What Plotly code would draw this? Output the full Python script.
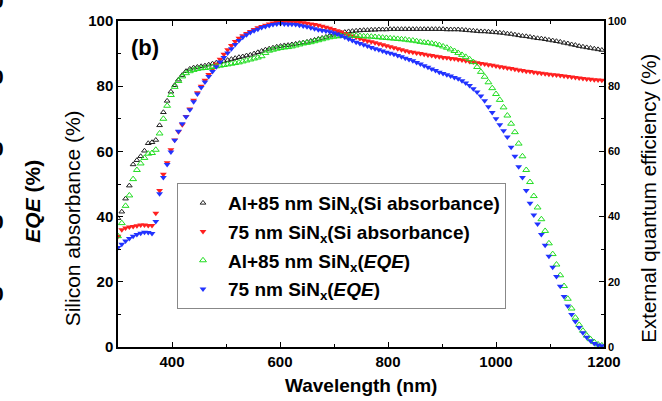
import plotly.graph_objects as go

wavelength = list(range(300, 1197, 7))

abs_al85 = [
    39.5, 41.5, 45.5, 49.5, 56.0, 57.3, 58.5, 60.2, 62.5, 62.8,
    63.5, 68.0, 72.0, 75.5, 78.3, 80.3, 82.0, 83.4, 84.6, 85.3,
    85.7, 85.9, 86.1, 86.3, 86.6, 86.9, 87.2, 87.4, 87.7, 88.0,
    88.3, 88.6, 88.9, 89.1, 89.4, 89.6, 90.0, 90.4, 90.8, 91.2,
    91.5, 91.8, 92.1, 92.3, 92.5, 92.6, 92.8, 93.0, 93.2, 93.4,
    93.6, 93.9, 94.2, 94.5, 94.8, 95.1, 95.5, 95.8, 96.1, 96.4,
    96.6, 96.8, 96.9, 97.0, 97.1, 97.2, 97.2, 97.3, 97.3, 97.4,
    97.4, 97.4, 97.5, 97.5, 97.5, 97.5, 97.5, 97.5, 97.5, 97.5,
    97.5, 97.5, 97.5, 97.5, 97.5, 97.5, 97.5, 97.4, 97.4, 97.4,
    97.4, 97.3, 97.2, 97.1, 97.0, 96.9, 96.8, 96.8, 96.7, 96.6,
    96.5, 96.4, 96.3, 96.1, 96.0, 95.8, 95.6, 95.4, 95.3, 95.1,
    94.9, 94.7, 94.6, 94.4, 94.2, 94.0, 93.8, 93.6, 93.3, 93.1,
    92.8, 92.6, 92.3, 92.1, 91.9, 91.7, 91.5, 91.3, 91.1,
]

abs_75 = [
    34.0, 36.0, 36.5, 36.8, 37.0, 37.2, 37.4, 37.4, 37.3, 37.3,
    41.0, 48.0, 53.0, 56.5, 60.5, 63.5, 66.0, 68.2, 70.7, 73.0,
    75.7, 78.0, 80.0, 81.8, 83.6, 85.2, 86.8, 88.3, 89.8, 91.2,
    92.5, 93.7, 94.7, 95.5, 96.2, 96.8, 97.4, 97.9, 98.3, 98.7,
    99.1, 99.4, 99.6, 99.7, 99.8, 99.8, 99.8, 99.7, 99.6, 99.5,
    99.3, 99.1, 98.9, 98.7, 98.4, 98.1, 97.8, 97.4, 97.0, 96.6,
    96.2, 95.8, 95.4, 95.0, 94.6, 94.2, 93.9, 93.6, 93.3, 93.0,
    92.7, 92.4, 92.1, 91.8, 91.5, 91.2, 90.9, 90.6, 90.4, 90.2,
    90.0, 89.8, 89.6, 89.4, 89.2, 89.0, 88.8, 88.7, 88.5, 88.4,
    88.2, 88.0, 87.8, 87.6, 87.4, 87.2, 87.0, 86.8, 86.6, 86.4,
    86.2, 86.0, 85.8, 85.6, 85.4, 85.2, 85.0, 84.8, 84.6, 84.5,
    84.3, 84.1, 84.0, 83.8, 83.7, 83.5, 83.4, 83.3, 83.1, 83.0,
    82.8, 82.7, 82.5, 82.4, 82.2, 82.1, 82.0, 81.9, 81.8,
]

eqe_al85 = [
    34.0, 38.0, 43.3, 46.5, 51.5, 54.3, 56.3, 58.0, 59.3, 59.5,
    60.5, 65.5, 70.0, 74.0, 77.3, 79.8, 81.6, 83.0, 84.0, 84.6,
    85.0, 85.3, 85.5, 85.6, 85.7, 85.9, 86.1, 86.3, 86.5, 86.7,
    86.9, 87.1, 87.3, 87.6, 87.9, 88.2, 88.5, 88.8, 89.2, 90.2,
    90.9, 91.2, 91.5, 91.7, 91.9, 92.0, 92.2, 92.5, 92.8, 93.1,
    93.3, 93.5, 93.8, 94.1, 94.4, 94.7, 95.0, 95.2, 95.3, 95.4,
    95.5, 95.5, 95.5, 95.5, 95.4, 95.3, 95.3, 95.2, 95.1, 95.0,
    94.9, 94.8, 94.7, 94.6, 94.5, 94.4, 94.3, 94.1, 94.0, 93.8,
    93.6, 93.4, 93.3, 93.1, 92.9, 92.6, 92.2, 91.8, 91.3, 90.8,
    90.2, 89.6, 89.0, 88.3, 87.4, 85.9, 84.4, 82.9, 81.2, 79.4,
    77.6, 75.8, 73.5, 71.0, 68.5, 65.9, 62.4, 58.5, 54.3, 50.6,
    46.3, 42.8, 39.2, 35.6, 31.8, 28.5, 25.3, 22.0, 18.7, 14.8,
    11.8, 9.0, 6.8, 5.0, 3.5, 2.4, 1.5, 0.8, 0.5,
]

eqe_75 = [
    30.5, 31.5, 32.5, 33.3, 34.0, 34.5, 34.9, 35.2, 35.1, 34.8,
    38.5, 47.0, 52.0, 56.0, 59.8, 63.4, 66.2, 68.5, 70.6, 72.8,
    75.2, 77.6, 79.6, 81.3, 83.0, 84.5, 86.0, 87.4, 88.8, 90.2,
    91.5, 92.8, 94.0, 95.0, 95.8, 96.5, 97.0, 97.5, 98.0, 98.3,
    98.6, 98.9, 99.1, 99.2, 99.1, 99.0, 99.0, 98.9, 98.7, 98.5,
    98.2, 97.9, 97.6, 97.3, 97.1, 96.9, 96.7, 96.4, 96.0, 95.5,
    95.0, 94.5, 94.0, 93.5, 93.1, 92.7, 92.3, 91.9, 91.5, 91.2,
    90.8, 90.4, 90.1, 89.8, 89.4, 89.0, 88.6, 88.2, 87.8, 87.3,
    86.8, 86.3, 85.8, 85.3, 84.8, 84.3, 83.9, 83.5, 83.1, 82.7,
    82.3, 81.7, 81.0, 80.2, 79.2, 78.2, 77.0, 75.5, 73.7, 71.9,
    70.0, 68.2, 66.3, 64.4, 61.3, 58.5, 55.3, 52.0, 48.0, 44.1,
    40.5, 37.7, 34.5, 31.2, 27.8, 24.5, 21.6, 18.6, 15.5, 12.6,
    10.0, 7.8, 6.0, 4.4, 3.0, 1.9, 1.1, 0.6, 0.4,
]

names = [
    "Al+85 nm SiN<sub>x</sub>(Si absorbance)",
    "75 nm SiN<sub>x</sub>(Si absorbance)",
    "Al+85 nm SiN<sub>x</sub>(<i>EQE</i>)",
    "75 nm SiN<sub>x</sub>(<i>EQE</i>)",
]
left_ticks = [0, 20, 40, 60, 80, 100]
x_ticks = [400, 600, 800, 1000, 1200]

FONT = "Arial, Liberation Sans, sans-serif"
W, H = 662, 401
L, R, T, B = 118, 58, 15, 54
pw, ph = W - L - R, H - T - B

def px_x(p):
    return (p - L) / pw

def px_y(p):
    return (H - B - p) / ph

fig = go.Figure()
fig.add_trace(go.Scatter(x=wavelength, y=abs_al85, mode="markers", name=names[0],
    marker=dict(symbol="triangle-up-open", size=5, color="#222222", line=dict(width=1)),
    legendgroup="a"))
fig.add_trace(go.Scatter(x=wavelength, y=abs_75, mode="markers", name=names[1],
    marker=dict(symbol="triangle-down", size=6, color="#ff2020"),
    legendgroup="b"))
fig.add_trace(go.Scatter(x=wavelength, y=eqe_al85, mode="markers", name=names[2], yaxis="y2",
    marker=dict(symbol="triangle-up-open", size=6, color="#22dd22", line=dict(width=1)),
    legendgroup="c"))
fig.add_trace(go.Scatter(x=wavelength, y=eqe_75, mode="markers", name=names[3], yaxis="y2",
    marker=dict(symbol="triangle-down", size=6, color="#2233ff"),
    legendgroup="d"))

axis_common = dict(showline=True, linecolor="black", linewidth=1.5, ticks="inside",
                   ticklen=5, tickwidth=1.2, tickcolor="black", showgrid=False, zeroline=False)

fig.update_layout(
    width=W, height=H,
    margin=dict(l=L, r=R, t=T, b=B),
    paper_bgcolor="white", plot_bgcolor="white",
    font=dict(family=FONT, color="black"),
    xaxis=dict(range=[300, 1200], tickvals=x_ticks, mirror="ticks",
               tickfont=dict(size=15, weight="bold"),
               minor=dict(dtick=100, tick0=300, ticks="inside", ticklen=3, tickcolor="black"),
               **axis_common),
    yaxis=dict(range=[0, 100], tickvals=left_ticks, mirror=True,
               tickfont=dict(size=15, weight="bold"),
               minor=dict(dtick=10, ticks="inside", ticklen=3, tickcolor="black"),
               **axis_common),
    yaxis2=dict(range=[0, 100], tickvals=left_ticks, overlaying="y", side="right",
                tickfont=dict(size=11, weight="bold"),
                minor=dict(dtick=10, ticks="inside", ticklen=3, tickcolor="black"),
                **axis_common),
    legend=dict(x=px_x(177), y=px_y(180), xanchor="left", yanchor="top",
                bordercolor="#888888", borderwidth=1, bgcolor="white",
                font=dict(size=19, weight="bold"), tracegroupgap=1,
                itemwidth=40),
    showlegend=True,
)

# axis titles
fig.add_annotation(x=px_x(361), y=px_y(386), xref="paper", yref="paper",
                   text="Wavelength (nm)", showarrow=False, xanchor="center", yanchor="middle",
                   font=dict(size=19, weight="bold"))
fig.add_annotation(x=px_x(72), y=px_y(216), xref="paper", yref="paper",
                   text="Silicon absorbance (%)", textangle=-90, showarrow=False,
                   xanchor="center", yanchor="middle",
                   font=dict(size=21, weight=500))
fig.add_annotation(x=px_x(649), y=px_y(196), xref="paper", yref="paper",
                   text="External quantum efficiency (%)", textangle=-90, showarrow=False,
                   xanchor="center", yanchor="middle",
                   font=dict(size=20.5, weight=500))

fig.add_annotation(x=px_x(145), y=px_y(42), xref="paper", yref="paper", text="(b)",
                   showarrow=False, xanchor="center", yanchor="middle",
                   font=dict(size=22, weight="bold"))
# fragments of the neighbouring panel (cut off at the left edge)
fig.add_annotation(x=px_x(33), y=px_y(199), xref="paper", yref="paper",
                   text="<i>EQE</i> (%)", textangle=-90, showarrow=False,
                   xanchor="center", yanchor="middle",
                   font=dict(size=21, weight="bold"))
for yy in [-6, 72, 145, 219, 293]:
    fig.add_annotation(x=px_x(6), y=px_y(yy), xref="paper", yref="paper", text="0",
                       showarrow=False, xanchor="right", yanchor="middle",
                       font=dict(size=21, weight="bold"))

fig.write_html("out.html")
